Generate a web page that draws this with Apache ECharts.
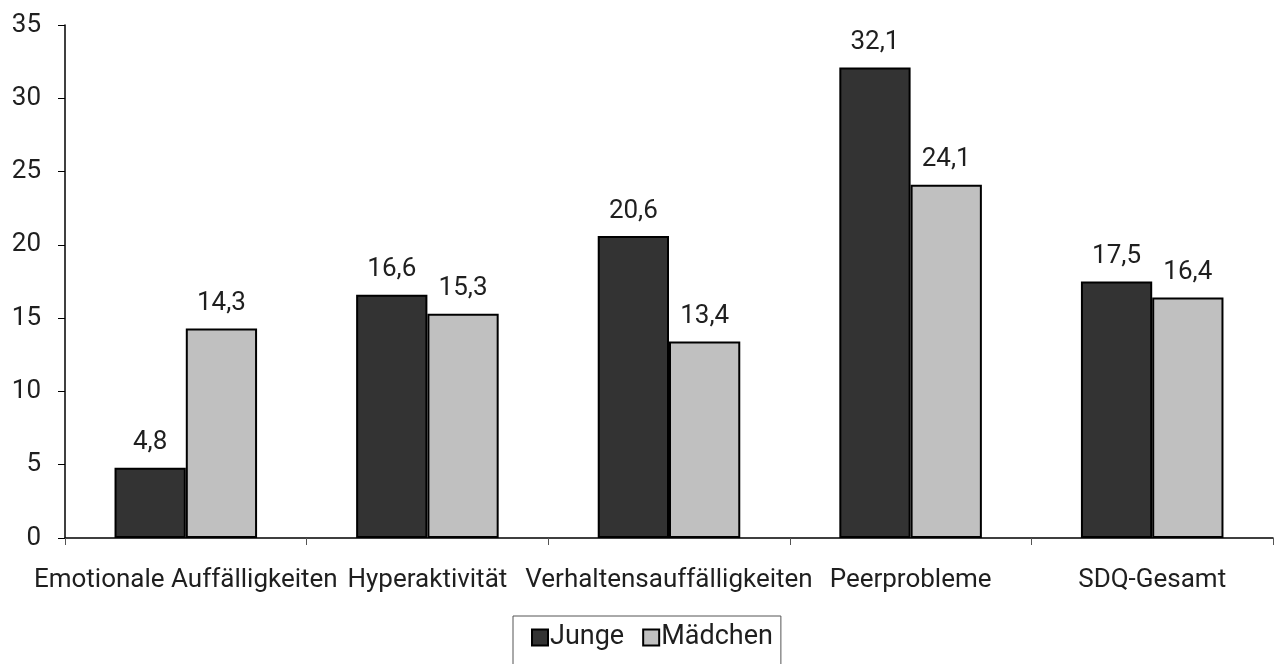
<!DOCTYPE html>
<html>
<head>
<meta charset="utf-8">
<script src="https://cdn.jsdelivr.net/npm/echarts@6/dist/echarts.min.js"></script>
<style>
  html, body { margin: 0; padding: 0; background: #fff; }
  #chart { width: 1278px; height: 664px; }
</style>
</head>
<body>
<div id="chart"></div>
<script>
const categories = ['Emotionale Auffälligkeiten', 'Hyperaktivität', 'Verhaltensauffälligkeiten', 'Peerprobleme', 'SDQ-Gesamt'];
const seriesNames = ['Junge', 'Mädchen'];
const jungeValues = [4.8, 16.6, 20.6, 32.1, 17.5];
const maedchenValues = [14.3, 15.3, 13.4, 24.1, 16.4];
const yTicks = { min: 0, max: 35, interval: 5 };

const FONT = 'Roboto';
const FW = 400;
const FS = 26;
const TEXT = '#1f1f1f';
const fmt = v => String(v).replace('.', ',');

const chart = echarts.init(document.getElementById('chart'), null, { renderer: 'canvas' });

function barSeries(name, data, color) {
  return {
    name: name,
    type: 'bar',
    data: data,
    barWidth: '29.5%',
    barGap: '0%',
    itemStyle: { color: color, borderColor: '#000', borderWidth: 2 },
    label: {
      show: true,
      position: 'top',
      distance: 12,
      fontFamily: FONT,
      fontWeight: FW,
      fontSize: FS,
      color: TEXT,
      formatter: p => fmt(p.value)
    }
  };
}

chart.setOption({
  animation: false,
  textStyle: { fontFamily: FONT },
  grid: { left: 65, right: 5, top: 25, bottom: 126, containLabel: false },
  legend: {
    data: seriesNames,
    top: 616,
    left: 513,
    itemWidth: 16,
    itemHeight: 16,
    itemGap: 18,
    padding: [8, 8, 30, 18],
    borderColor: '#555',
    borderWidth: 1,
    icon: 'rect',
    textStyle: { fontFamily: FONT, fontWeight: FW, fontSize: 27, color: TEXT, padding: [0, 0, 0, -3] }
  },
  xAxis: {
    type: 'category',
    data: categories,
    axisLine: { lineStyle: { color: '#000', width: 1.5 } },
    axisTick: { show: true, length: 7, inside: false, lineStyle: { color: '#555' } },
    axisLabel: { fontFamily: FONT, fontWeight: FW, fontSize: FS, color: TEXT, margin: 29, interval: 0 }
  },
  yAxis: {
    type: 'value',
    min: yTicks.min,
    max: yTicks.max,
    interval: yTicks.interval,
    splitLine: { show: false },
    axisLine: { show: true, lineStyle: { color: '#000', width: 1.5 } },
    axisTick: { show: true, length: 7, lineStyle: { color: '#000' } },
    axisLabel: { fontFamily: FONT, fontWeight: FW, fontSize: FS, color: TEXT, margin: 24 }
  },
  series: [
    barSeries(seriesNames[0], jungeValues, '#333333'),
    barSeries(seriesNames[1], maedchenValues, '#c0c0c0')
  ]
});
</script>
</body>
</html>
